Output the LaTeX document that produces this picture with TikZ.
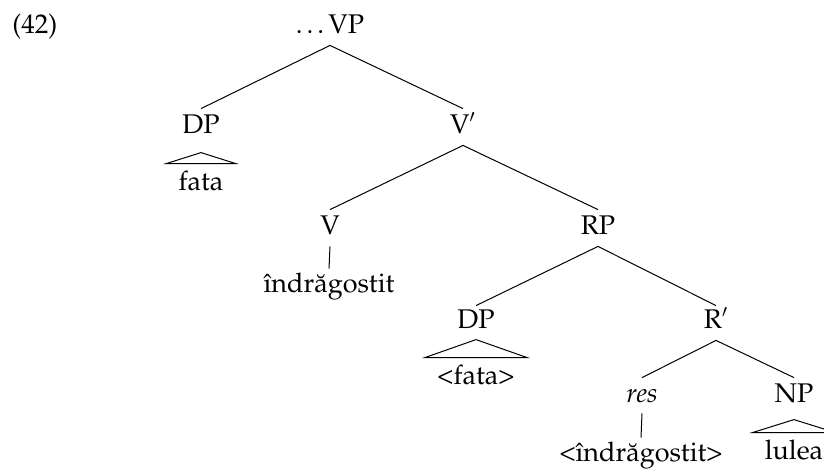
\documentclass[tikz,border=0pt]{standalone}
\usepackage[T1]{fontenc}
\renewcommand{\rmdefault}{ppl}
\begin{document}
\begin{tikzpicture}[x=0.5pt,y=-0.5pt,
  font=\fontsize{13.5}{16}\selectfont,
  cat/.style={inner sep=0pt,anchor=base,text height=9pt,text depth=0pt},
  leaf/.style={inner sep=0pt,anchor=base,text height=9pt,text depth=2.5pt},
  branch/.style={line width=0.5pt},
  roof/.style={line width=0.5pt,line join=miter}]
\useasboundingbox (0,0) rectangle (824,468);
% labels
\node[cat,anchor=base west] (ex) at (12,33) {(42)};
\node[cat] (vp) at (330,33) {\ldots VP};
\node[cat] (dp1) at (201,133) {DP};
\node[leaf] (fata) at (201,190) {fata};
\node[cat] (vbar) at (463,133) {V$'$};
\node[cat] (v) at (330,234) {V};
\node[leaf] (ind) at (329,292) {\^{\i}ndr\u{a}gostit};
\node[cat] (rp) at (598,234) {RP};
\node[cat] (dp2) at (476,328) {DP};
\node[leaf] (fata2) at (476,384) {<fata>};
\node[cat] (rbar) at (716,328) {R$'$};
\node[cat] (res) at (642,402) {\textit{res}};
\node[leaf] (ind2) at (641,461) {<\^{\i}ndr\u{a}gostit>};
\node[cat] (np) at (794,402) {NP};
\node[leaf] (lulea) at (794,459) {lulea};
% branches
\draw[branch] ([yshift=-6pt]vp.south) -- ([yshift=3pt]dp1.north);
\draw[branch] ([yshift=-6pt]vp.south) -- ([yshift=3pt]vbar.north);
\draw[branch] ([yshift=-6pt]vbar.south) -- ([yshift=3pt]v.north);
\draw[branch] ([yshift=-6pt]vbar.south) -- ([yshift=3pt]rp.north);
\draw[branch] ([yshift=-6pt]v.south) -- ([yshift=2.5pt]ind.north);
\draw[branch] ([yshift=-6pt]rp.south) -- ([yshift=2pt]dp2.north);
\draw[branch] ([yshift=-6pt]rp.south) -- ([yshift=2pt]rbar.north);
\draw[branch] ([yshift=-6pt]rbar.south) -- ([yshift=3pt]res.north);
\draw[branch] ([yshift=-6pt]rbar.south) -- ([yshift=3pt]np.north);
\draw[branch] ([yshift=-5.5pt]res.south) -- ([yshift=2.5pt]ind2.north);
% roofs
\draw[roof] ([yshift=9.5pt]fata.north) -- ([xshift=-6pt,yshift=4pt]fata.north west)
  -- ([xshift=6pt,yshift=4pt]fata.north east) -- cycle;
\draw[roof] ([yshift=13pt]fata2.north) -- ([xshift=-6pt,yshift=4pt]fata2.north west)
  -- ([xshift=6pt,yshift=4pt]fata2.north east) -- cycle;
\draw[roof] ([yshift=10.5pt]lulea.north) -- ([xshift=-6pt,yshift=4pt]lulea.north west)
  -- ([xshift=6pt,yshift=4pt]lulea.north east) -- cycle;
\end{tikzpicture}
\end{document}
